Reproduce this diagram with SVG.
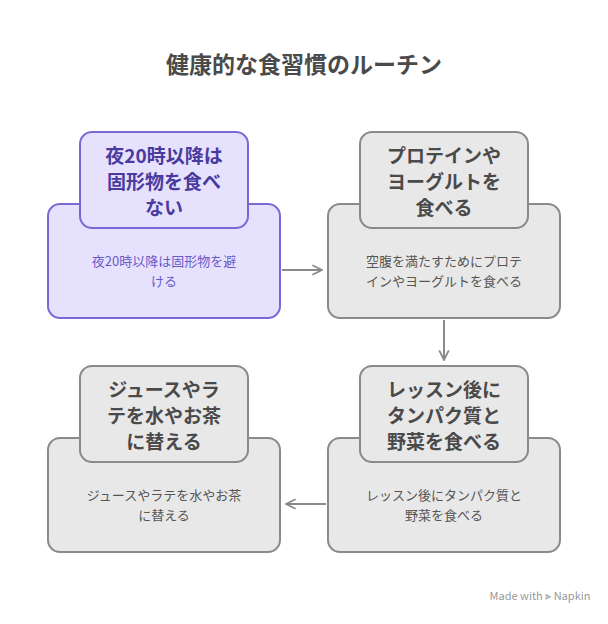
<svg xmlns="http://www.w3.org/2000/svg" width="608" height="624" viewBox="0 0 608 624">
<style>
text{font-family:"Noto Sans CJK JP","Noto Sans",sans-serif;text-anchor:middle}
.t{font-size:19px;font-weight:bold;fill:#4a4a4a}
.b{font-size:13px;fill:#555}
.g rect{fill:#e8e8e8;stroke:#8a8a8a;stroke-width:2}
.p rect{fill:#e6e2fe;stroke:#7a68d8;stroke-width:2}
.p .t{fill:#4a3a9e}
.p .b{fill:#6a5ac8}
.c{stroke:#8a8a8a;stroke-width:2;fill:none;marker-end:url(#a)}
</style>
<defs><marker id="a" viewBox="0 0 10 10" refX="9" refY="5" markerWidth="6" markerHeight="6" orient="auto"><path d="M1,1 L9,5 L1,9" fill="none" stroke="#8a8a8a" stroke-width="1.5"/></marker></defs>
<rect width="608" height="624" fill="#fff"/>
<text x="304" y="73" style="font-size:23px;font-weight:bold;fill:#4a4a4a">健康的な食習慣のルーチン</text>
<g id="n1" class="p">
<rect x="48" y="204" width="232" height="114" rx="12"/>
<rect x="80" y="132" width="168" height="96" rx="12"/>
<text class="t" x="164" y="163">夜20時以降は</text><text class="t" x="164" y="189">固形物を食べ</text><text class="t" x="164" y="215">ない</text>
<text class="b" x="164" y="266">夜20時以降は固形物を避</text><text class="b" x="164" y="286">ける</text>
</g>
<g id="n2" class="g">
<rect x="328" y="204" width="232" height="114" rx="12"/>
<rect x="360" y="132" width="168" height="96" rx="12"/>
<text class="t" x="444" y="163">プロテインや</text><text class="t" x="444" y="189">ヨーグルトを</text><text class="t" x="444" y="215">食べる</text>
<text class="b" x="444" y="266">空腹を満たすためにプロテ</text><text class="b" x="444" y="286">インやヨーグルトを食べる</text>
</g>
<g id="n3" class="g">
<rect x="328" y="438" width="232" height="114" rx="12"/>
<rect x="360" y="366" width="168" height="96" rx="12"/>
<text class="t" x="444" y="397">レッスン後に</text><text class="t" x="444" y="423">タンパク質と</text><text class="t" x="444" y="449">野菜を食べる</text>
<text class="b" x="444" y="500">レッスン後にタンパク質と</text><text class="b" x="444" y="520">野菜を食べる</text>
</g>
<g id="n4" class="g">
<rect x="48" y="438" width="232" height="114" rx="12"/>
<rect x="80" y="366" width="168" height="96" rx="12"/>
<text class="t" x="164" y="397">ジュースやラ</text><text class="t" x="164" y="423">テを水やお茶</text><text class="t" x="164" y="449">に替える</text>
<text class="b" x="164" y="500">ジュースやラテを水やお茶</text><text class="b" x="164" y="520">に替える</text>
</g>
<g id="connectors">
<path class="c" d="M282,270 H322"/>
<path class="c" d="M444,320 V360"/>
<path class="c" d="M326,504 H286"/>
</g>
<text x="540" y="600" style="font-size:11px;fill:#999">Made with ⫸ Napkin</text>
</svg>
